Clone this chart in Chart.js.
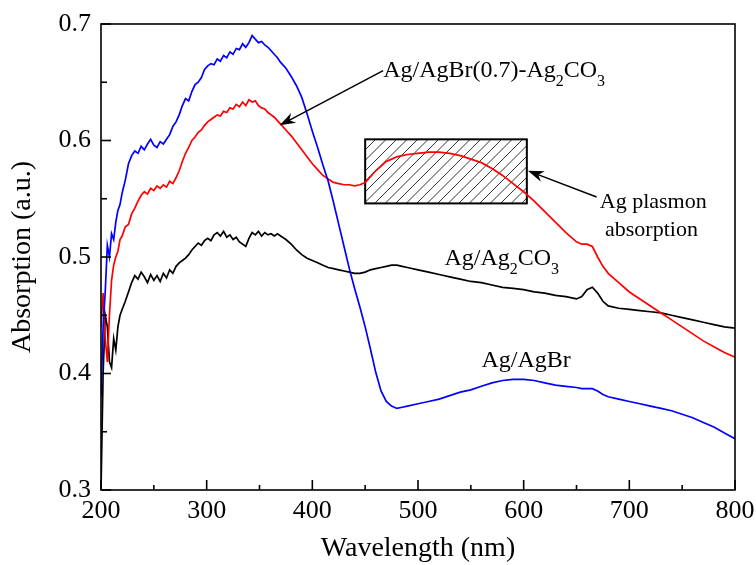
<!DOCTYPE html>
<html>
<head>
<meta charset="utf-8">
<script src="https://cdn.jsdelivr.net/npm/chart.js@4"></script>
<style>body{margin:0;background:#fff}</style>
</head>
<body>
<canvas id="spectra" width="756" height="565"></canvas>
<script>
// wavelength grid (nm) shared by the three spectra
const wavelength = [
  200, 202, 204, 206, 208, 210, 212, 214, 216, 218, 220,
  223, 226, 229, 232, 235, 238, 241, 244, 247, 250,
  253, 256, 259, 262, 265, 268, 271, 274, 277, 280,
  283, 286, 289, 292, 295, 298, 301, 304, 307, 310,
  313, 316, 319, 322, 325, 328, 331, 334, 337, 340,
  343, 346, 349, 352, 355, 358, 361, 364, 367, 370,
  375, 380, 385, 390, 395, 400, 405, 410, 415, 420,
  425, 430, 435, 440, 445, 450, 455, 460, 465, 470,
  475, 480, 485, 490,
  500, 510, 520, 530, 540, 550, 560, 570, 580, 590, 600, 610, 620, 630, 640, 650,
  655, 660, 665, 670, 675, 680,
  690, 700, 710, 720, 730, 740, 750, 760, 770, 780, 790, 800
];

const agAgBr = [
  0.380, 0.440, 0.470, 0.510, 0.500, 0.520, 0.515, 0.530, 0.540, 0.545, 0.555,
  0.566, 0.580, 0.587, 0.591, 0.589, 0.595, 0.592, 0.597, 0.601, 0.596,
  0.594, 0.599, 0.597, 0.601, 0.605, 0.612, 0.616, 0.622, 0.630, 0.636,
  0.634, 0.642, 0.648, 0.650, 0.654, 0.661, 0.664, 0.666, 0.665, 0.670,
  0.668, 0.673, 0.671, 0.676, 0.674, 0.679, 0.678, 0.683, 0.680, 0.684,
  0.690, 0.687, 0.684, 0.685, 0.682, 0.680, 0.677, 0.674, 0.671, 0.667,
  0.662, 0.655, 0.647, 0.637, 0.623, 0.608, 0.594, 0.579, 0.565, 0.547,
  0.528, 0.509, 0.490, 0.473, 0.457, 0.440, 0.421, 0.401, 0.385, 0.376,
  0.372, 0.370, 0.371, 0.372,
  0.374, 0.376, 0.378, 0.381, 0.384, 0.386, 0.389, 0.392, 0.394, 0.395, 0.395, 0.394, 0.392, 0.390, 0.389, 0.388,
  0.387, 0.387, 0.387, 0.385, 0.382, 0.380,
  0.378, 0.376, 0.374, 0.372, 0.370, 0.368, 0.365, 0.362, 0.358, 0.354, 0.349, 0.344
];

const agAgBrAg2CO3 = [
  0.440, 0.469, 0.430, 0.410, 0.450, 0.480, 0.493, 0.500, 0.505, 0.515, 0.518,
  0.526, 0.528, 0.537, 0.542, 0.548, 0.553, 0.556, 0.554, 0.559, 0.557,
  0.561, 0.559, 0.562, 0.560, 0.565, 0.563, 0.568, 0.574, 0.582, 0.589,
  0.594, 0.600, 0.603, 0.607, 0.609, 0.613, 0.616, 0.618, 0.620, 0.622,
  0.621, 0.625, 0.624, 0.628, 0.627, 0.631, 0.629, 0.633, 0.630, 0.635,
  0.633, 0.634, 0.630, 0.628, 0.627, 0.624, 0.622, 0.620, 0.617, 0.614,
  0.609, 0.604, 0.598, 0.592, 0.586, 0.580, 0.575, 0.570, 0.567, 0.564,
  0.563, 0.562, 0.562, 0.561, 0.562, 0.564, 0.569, 0.574, 0.578, 0.582,
  0.584, 0.586, 0.587, 0.588,
  0.589, 0.590, 0.590, 0.589, 0.587, 0.584, 0.581, 0.576, 0.570, 0.563, 0.556, 0.548, 0.539, 0.530, 0.521, 0.513,
  0.511, 0.511, 0.509, 0.500, 0.492, 0.486,
  0.478, 0.470, 0.464, 0.458, 0.452, 0.446, 0.440, 0.434, 0.428, 0.423, 0.418, 0.414
];

const agAg2CO3 = [
  0.300, 0.400, 0.450, 0.440, 0.410, 0.405, 0.430, 0.420, 0.440, 0.450, 0.455,
  0.462, 0.470, 0.478, 0.484, 0.481, 0.487, 0.483, 0.478, 0.485, 0.480,
  0.484, 0.479, 0.486, 0.482, 0.489, 0.486, 0.492, 0.495, 0.497, 0.499,
  0.502, 0.506, 0.509, 0.512, 0.510, 0.514, 0.516, 0.514, 0.519, 0.521,
  0.518, 0.522, 0.517, 0.519, 0.515, 0.517, 0.513, 0.511, 0.509, 0.516,
  0.521, 0.519, 0.522, 0.518, 0.521, 0.519, 0.520, 0.518, 0.520, 0.518,
  0.515, 0.511, 0.506, 0.502, 0.499, 0.497, 0.495, 0.493, 0.491, 0.490,
  0.489, 0.488, 0.487, 0.486, 0.486, 0.487, 0.489, 0.490, 0.491, 0.492,
  0.493, 0.493, 0.492, 0.491,
  0.489, 0.487, 0.485, 0.483, 0.481, 0.479, 0.478, 0.476, 0.474, 0.473, 0.472, 0.470, 0.469, 0.467, 0.466, 0.464,
  0.466, 0.472, 0.474, 0.469, 0.462, 0.458,
  0.456, 0.455, 0.454, 0.453, 0.452, 0.450, 0.448, 0.446, 0.444, 0.442, 0.440, 0.439
];

const xTicks = [200, 300, 400, 500, 600, 700, 800];
const yTicks = [0.3, 0.4, 0.5, 0.6, 0.7];

// Global Options
Chart.defaults.font.family = "'Liberation Serif', 'Times New Roman', serif";
Chart.defaults.color = '#000';

const toPoints = ys => wavelength.map((w, i) => ({ x: w, y: ys[i] }));

// text with subscripts: parts = [[text, isSub], ...]
function chemText(ctx, parts, x, y, size) {
  let cx = x;
  parts.forEach(([t, sub]) => {
    ctx.font = (sub ? 16 : size) + "px 'Liberation Serif', serif";
    ctx.fillText(t, cx, sub ? y + 9 : y);
    cx += ctx.measureText(t).width;
  });
}

function arrow(ctx, x1, y1, x2, y2) {
  const ang = Math.atan2(y2 - y1, x2 - x1);
  const L = 16, W = 5.5;
  ctx.beginPath();
  ctx.moveTo(x1, y1);
  ctx.lineTo(x2 - Math.cos(ang) * 8, y2 - Math.sin(ang) * 8);
  ctx.stroke();
  ctx.beginPath();
  ctx.moveTo(x2, y2);
  ctx.lineTo(x2 - L * Math.cos(ang) + W * Math.sin(ang), y2 - L * Math.sin(ang) - W * Math.cos(ang));
  ctx.lineTo(x2 - 11 * Math.cos(ang), y2 - 11 * Math.sin(ang));
  ctx.lineTo(x2 - L * Math.cos(ang) - W * Math.sin(ang), y2 - L * Math.sin(ang) + W * Math.cos(ang));
  ctx.closePath();
  ctx.fill();
}

const frameAndNotes = {
  id: 'frameAndNotes',
  beforeDatasetsDraw(chart) {
    // hatched box marking the Ag plasmon band
    const ctx = chart.ctx, x = chart.scales.x, y = chart.scales.y;
    const l = x.getPixelForValue(450), r = x.getPixelForValue(603);
    const t = y.getPixelForValue(0.601), b = y.getPixelForValue(0.546);
    ctx.save();
    ctx.beginPath();
    ctx.rect(l, t, r - l, b - t);
    ctx.clip();
    ctx.strokeStyle = '#333';
    ctx.lineWidth = 1;
    for (let s = l - (b - t); s < r + 10; s += 10.5) {
      ctx.beginPath();
      ctx.moveTo(s, b);
      ctx.lineTo(s + (b - t), t);
      ctx.stroke();
    }
    ctx.restore();
    ctx.save();
    ctx.strokeStyle = '#000';
    ctx.lineWidth = 2;
    ctx.strokeRect(l, t, r - l, b - t);
    ctx.restore();
  },
  afterDatasetsDraw(chart) {
    const ctx = chart.ctx, a = chart.chartArea, x = chart.scales.x, y = chart.scales.y;
    ctx.save();
    ctx.strokeStyle = '#000';
    ctx.fillStyle = '#000';
    ctx.lineWidth = 1.6;
    ctx.strokeRect(a.left, a.top, a.right - a.left, a.bottom - a.top);
    // inward ticks
    for (let v = 200; v <= 800; v += 50) {
      const px = x.getPixelForValue(v), len = v % 100 ? 5 : 10;
      ctx.beginPath(); ctx.moveTo(px, a.bottom); ctx.lineTo(px, a.bottom - len); ctx.stroke();
    }
    for (let i = 0; i <= 8; i++) {
      const py = y.getPixelForValue(0.3 + i * 0.05), len = i % 2 ? 6 : 10;
      ctx.beginPath(); ctx.moveTo(a.left, py); ctx.lineTo(a.left + len, py); ctx.stroke();
    }
    // arrows
    ctx.lineWidth = 1.5;
    arrow(ctx, x.getPixelForValue(467), y.getPixelForValue(0.660), x.getPixelForValue(369), y.getPixelForValue(0.613));
    arrow(ctx, x.getPixelForValue(669), y.getPixelForValue(0.5515), x.getPixelForValue(604), y.getPixelForValue(0.574));
    // labels
    ctx.textBaseline = 'alphabetic';
    ctx.textAlign = 'left';
    chemText(ctx, [['Ag/AgBr(0.7)-Ag', false], ['2', true], ['CO', false], ['3', true]],
      x.getPixelForValue(467), y.getPixelForValue(0.6545), 24);
    chemText(ctx, [['Ag plasmon', false]], x.getPixelForValue(672), y.getPixelForValue(0.542), 22);
    chemText(ctx, [['absorption', false]], x.getPixelForValue(677), y.getPixelForValue(0.518), 22);
    chemText(ctx, [['Ag/Ag', false], ['2', true], ['CO', false], ['3', true]],
      x.getPixelForValue(525), y.getPixelForValue(0.493), 24);
    chemText(ctx, [['Ag/AgBr', false]], x.getPixelForValue(560), y.getPixelForValue(0.4056), 24);
    ctx.restore();
  }
};

let spectra = new Chart(document.getElementById('spectra').getContext('2d'), {
  type: 'line',
  data: {
    datasets: [{
      label: 'Ag/AgBr',
      data: toPoints(agAgBr),
      borderColor: '#0000ff',
      borderWidth: 1.7,
    }, {
      label: 'Ag/AgBr(0.7)-Ag2CO3',
      data: toPoints(agAgBrAg2CO3),
      borderColor: '#ff0000',
      borderWidth: 1.7,
    }, {
      label: 'Ag/Ag2CO3',
      data: toPoints(agAg2CO3),
      borderColor: '#000000',
      borderWidth: 1.7,
    }],
  },
  options: {
    responsive: false,
    animation: false,
    elements: { point: { radius: 0 }, line: { tension: 0 } },
    layout: { padding: { top: 24, right: 21, left: 0, bottom: 0 } },
    plugins: {
      legend: { display: false },
      tooltip: { enabled: false },
    },
    scales: {
      x: {
        type: 'linear',
        min: 200,
        max: 800,
        afterBuildTicks: s => { s.ticks = xTicks.map(v => ({ value: v })); },
        ticks: { font: { size: 26 }, padding: 6, maxRotation: 0 },
        grid: { display: false, drawTicks: false },
        border: { display: false },
        title: { display: true, text: 'Wavelength (nm)', font: { size: 28 }, padding: { top: 0, bottom: 0 } },
        afterFit: s => { s.height = 75; s.paddingLeft = 0; s.paddingRight = 0; },
      },
      y: {
        min: 0.3,
        max: 0.7,
        afterBuildTicks: s => { s.ticks = yTicks.map(v => ({ value: v })); },
        ticks: { font: { size: 26 }, padding: 10, callback: v => v.toFixed(1) },
        grid: { display: false, drawTicks: false },
        border: { display: false },
        title: { display: true, text: 'Absorption (a.u.)', font: { size: 28 }, padding: { top: 6, bottom: 0 } },
        afterFit: s => { s.width = 101; s.paddingTop = 0; s.paddingBottom = 0; },
      },
    },
  },
  plugins: [frameAndNotes],
});
</script>
</body>
</html>
